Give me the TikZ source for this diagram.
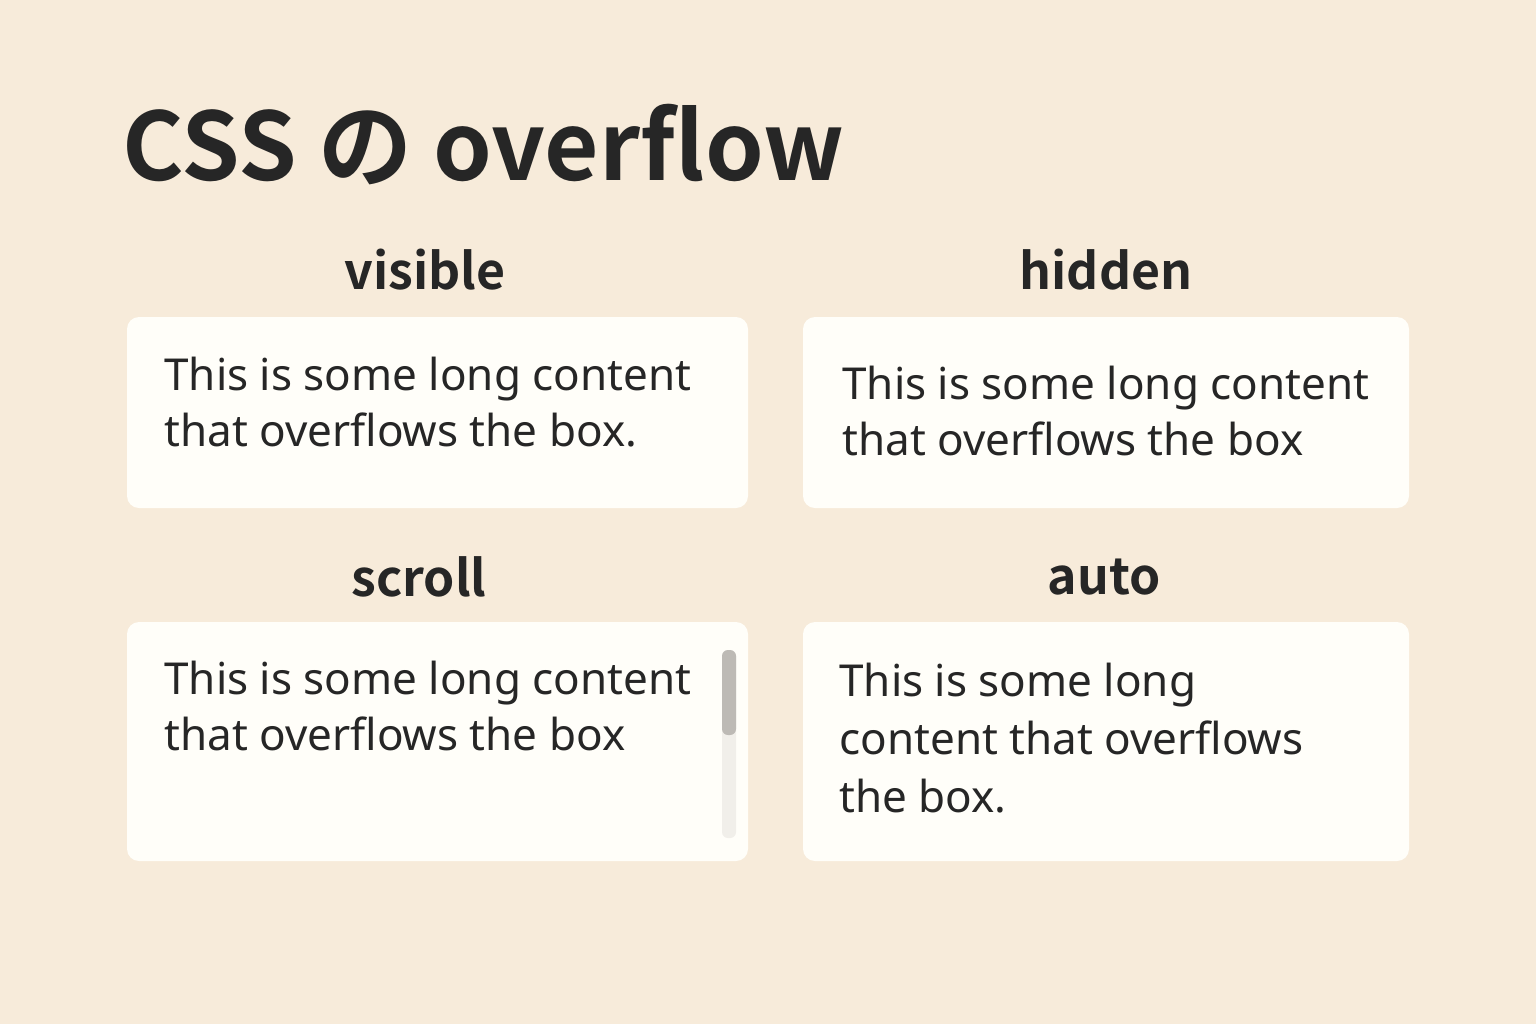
\documentclass[tikz,border=0pt]{standalone}
\usepackage{fontspec}
\setmainfont{Noto Sans}
\newfontfamily\headfont{Noto Sans CJK JP Bold}
\definecolor{bgcol}{HTML}{F7EBDA}
\definecolor{boxcol}{HTML}{FFFEF9}
\definecolor{inkcol}{HTML}{262626}
\definecolor{thumbcol}{HTML}{BDBAB5}
\definecolor{trackcol}{HTML}{F1EFEA}
\tikzset{
  panel/.style={fill=boxcol,rounded corners=6pt},
  head/.style={font=\headfont\fontsize{25}{30}\selectfont,text=inkcol,inner sep=0pt},
  body/.style={font=\fontsize{22}{28}\selectfont,text=inkcol,anchor=north west,align=left,inner sep=0pt}
}
\begin{document}
\begin{tikzpicture}[x=0.5pt,y=-0.5pt]
\fill[bgcol](0,0)rectangle(1536,1024);
\useasboundingbox(0,0)rectangle(1536,1024);
\node[anchor=base west,inner sep=0pt,text=inkcol,font=\headfont\fontsize{47}{54}\selectfont](title)at(122,180){CSS の overflow};
% panels
\fill[panel](127,317)rectangle(748,508);
\fill[panel](803,317)rectangle(1409,508);
\fill[panel](127,622)rectangle(748,861);
\fill[panel](803,622)rectangle(1409,861);
\node[head](visible)at(425,270){visible};
\node[head](hidden)at(1106,270){hidden};
\node[head](scroll)at(419,577){scroll};
\node[head](auto)at(1104,577){auto};
\node[body](tvisible)at(164,357){This is some long content\\that overflows the box.};
\node[body](thidden)at(842,366){This is some long content\\that overflows the box};
\node[body](tscroll)at(164,661){This is some long content\\that overflows the box};
\node[body,font=\fontsize{22}{29}\selectfont](tauto)at(839,663){This is some long\\content that overflows\\the box.};
% scrollbar
\fill[trackcol,rounded corners=3pt](722,650)rectangle(736,838);
\fill[thumbcol,rounded corners=3pt](722,650)rectangle(736,735);
\end{tikzpicture}
\end{document}
